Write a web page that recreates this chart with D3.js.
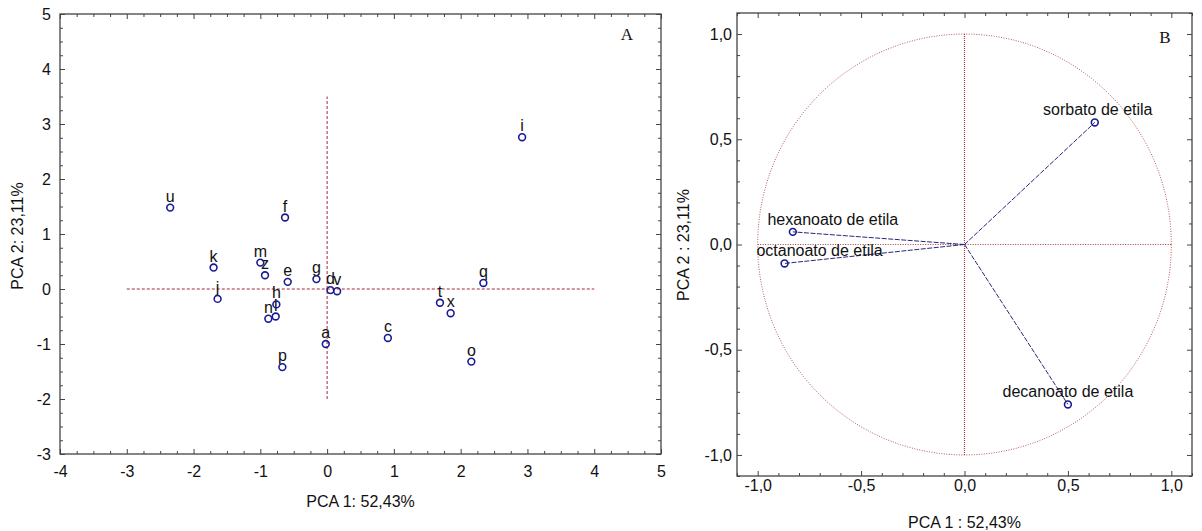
<!DOCTYPE html>
<html>
<head>
<meta charset="utf-8">
<script src="https://cdn.jsdelivr.net/npm/d3@7/dist/d3.min.js"></script>
<style>
  html, body { margin: 0; padding: 0; background: #fff; }
  svg { display: block; }
  text { font-family: "Liberation Sans", Arial, sans-serif; fill: #111; }
</style>
</head>
<body>
<svg id="chart" width="1202" height="531"></svg>
<script>
// ---------- Panel A: scores ----------
const scoreLabels = ["u", "k", "j", "m", "z", "e", "g", "d", "v", "h", "n", "l", "f", "a", "p", "c", "t", "x", "q", "o", "i"];
const scorePC1 = [-2.35, -1.70, -1.64, -1.00, -0.93, -0.59, -0.16, 0.05, 0.15, -0.76, -0.88, -0.77, -0.63, -0.02, -0.67, 0.91, 1.69, 1.85, 2.34, 2.16, 2.92];
const scorePC2 = [1.48, 0.39, -0.18, 0.48, 0.25, 0.13, 0.18, -0.02, -0.04, -0.28, -0.54, -0.50, 1.30, -1.00, -1.42, -0.89, -0.25, -0.44, 0.11, -1.32, 2.76];
const scoreXTicks = [-4, -3, -2, -1, 0, 1, 2, 3, 4, 5];
const scoreYTicks = [-3, -2, -1, 0, 1, 2, 3, 4, 5];
const scoreHLine = { x1: -3, x2: 4, y: 0 };
const scoreVLine = { x: 0, y1: -2, y2: 3.5 };
const scoreXTitle = "PCA 1: 52,43%";
const scoreYTitle = "PCA 2: 23,11%";

// ---------- Panel B: loadings ----------
const loadLabels = ["sorbato de etila", "hexanoato de etila", "octanoato de etila", "decanoato de etila"];
const loadPC1 = [0.63, -0.83, -0.87, 0.50];
const loadPC2 = [0.58, 0.06, -0.09, -0.76];
const loadTicks = [-1.0, -0.5, 0.0, 0.5, 1.0];
const loadXTitle = "PCA 1 : 52,43%";
const loadYTitle = "PCA 2 : 23,11%";

const svg = d3.select("#chart");
const frameColor = "#444";
const markColor = "#1a1a96";
const refColor = "#a3283a";

function drawFrame(g, x, y, majorX, majorY, minorX, minorY, fmt, padX, padY) {
  const [x0, x1] = x.range(), [y0, y1] = y.range();
  // minor ticks (all four sides, inward)
  const minors = [
    [d3.axisBottom(x).tickValues(minorX).tickSize(-3), `translate(0,${y0})`],
    [d3.axisTop(x).tickValues(minorX).tickSize(-3), `translate(0,${y1})`],
    [d3.axisLeft(y).tickValues(minorY).tickSize(-3), `translate(${x0},0)`],
    [d3.axisRight(y).tickValues(minorY).tickSize(-3), `translate(${x1},0)`]
  ];
  minors.forEach(([ax, tr]) => {
    const a = g.append("g").attr("transform", tr).call(ax.tickFormat(""));
    a.select(".domain").remove();
    a.selectAll("line").attr("stroke", frameColor);
  });
  // major ticks with labels (bottom, left)
  const bx = g.append("g").attr("transform", `translate(0,${y0})`)
    .call(d3.axisBottom(x).tickValues(majorX).tickSize(-5).tickPadding(padX).tickFormat(fmt));
  const ly = g.append("g").attr("transform", `translate(${x0},0)`)
    .call(d3.axisLeft(y).tickValues(majorY).tickSize(-5).tickPadding(padY).tickFormat(fmt));
  const tx = g.append("g").attr("transform", `translate(0,${y1})`)
    .call(d3.axisTop(x).tickValues(majorX).tickSize(-5).tickFormat(""));
  const ry = g.append("g").attr("transform", `translate(${x1},0)`)
    .call(d3.axisRight(y).tickValues(majorY).tickSize(-5).tickFormat(""));
  [bx, ly, tx, ry].forEach(a => {
    a.select(".domain").remove();
    a.selectAll("line").attr("stroke", frameColor);
    a.selectAll("text").attr("font-size", 16).attr("font-family", "Liberation Sans, Arial, sans-serif").attr("fill", "#111");
  });
  g.append("rect").attr("x", x0).attr("y", y1).attr("width", x1 - x0).attr("height", y0 - y1)
    .attr("fill", "none").attr("stroke", frameColor).attr("stroke-width", 1.3);
}

// ===== Panel A =====
{
  const x = d3.scaleLinear().domain([-4, 5]).range([60, 661]);
  const y = d3.scaleLinear().domain([-3, 5]).range([454, 14]);
  const g = svg.append("g");
  const minorX = d3.range(-4, 5.001, 0.25).filter(v => !scoreXTicks.includes(v));
  const minorY = d3.range(-3, 5.001, 0.25).filter(v => !scoreYTicks.includes(v));
  drawFrame(g, x, y, scoreXTicks, scoreYTicks, minorX, minorY, d => String(d), 12, 9);

  g.append("line").attr("x1", x(scoreHLine.x1)).attr("x2", x(scoreHLine.x2))
    .attr("y1", y(scoreHLine.y)).attr("y2", y(scoreHLine.y))
    .attr("stroke", refColor).attr("stroke-width", 1).attr("stroke-dasharray", "3,2");
  g.append("line").attr("x1", x(scoreVLine.x)).attr("x2", x(scoreVLine.x))
    .attr("y1", y(scoreVLine.y1)).attr("y2", y(scoreVLine.y2))
    .attr("stroke", refColor).attr("stroke-width", 1).attr("stroke-dasharray", "3,2");

  const pts = scoreLabels.map((l, i) => ({ l, px: scorePC1[i], py: scorePC2[i] }));
  g.selectAll("text.lab").data(pts).enter().append("text")
    .attr("class", "lab")
    .attr("x", d => x(d.px)).attr("y", d => y(d.py) - 6)
    .attr("text-anchor", "middle").attr("font-size", 16)
    .text(d => d.l);
  g.selectAll("circle.pt").data(pts).enter().append("circle")
    .attr("class", "pt")
    .attr("cx", d => x(d.px)).attr("cy", d => y(d.py)).attr("r", 3.4)
    .attr("fill", "none").attr("stroke", markColor).attr("stroke-width", 1.6);

  g.append("text").attr("x", 627).attr("y", 40).attr("text-anchor", "middle")
    .attr("font-family", "Liberation Serif, Times New Roman, serif").attr("font-size", 17)
    .style("font-family", "'Liberation Serif', serif").text("A");
  g.append("text").attr("x", (x.range()[0] + x.range()[1]) / 2).attr("y", 507)
    .attr("text-anchor", "middle").attr("font-size", 16).text(scoreXTitle);
  g.append("text").attr("transform", `translate(23,236) rotate(-90)`)
    .attr("text-anchor", "middle").attr("font-size", 16).text(scoreYTitle);
}

// ===== Panel B =====
{
  const x = d3.scaleLinear().domain([-1.1, 1.1]).range([737, 1192]);
  const y = d3.scaleLinear().domain([-1.1, 1.1]).range([476, 13]);
  const g = svg.append("g");
  const all = d3.range(-11, 12).map(v => v / 10);
  const minor = all.filter(v => !loadTicks.some(t => Math.abs(t - v) < 1e-9));
  const fmt = d => d.toFixed(1).replace(".", ",").replace("-0,0", "0,0");
  drawFrame(g, x, y, loadTicks, loadTicks, minor, minor, fmt, 4, 5);

  // unit circle
  const circ = d3.range(0, 361, 1).map(a => [Math.cos(a * Math.PI / 180), Math.sin(a * Math.PI / 180)]);
  g.append("path").attr("d", d3.line().x(d => x(d[0])).y(d => y(d[1]))(circ))
    .attr("fill", "none").attr("stroke", "#b85a5a").attr("stroke-width", 1).attr("stroke-dasharray", "1,1.5");
  g.append("line").attr("x1", x(-1)).attr("x2", x(1)).attr("y1", y(0)).attr("y2", y(0))
    .attr("stroke", "#a53a3a").attr("stroke-width", 1).attr("stroke-dasharray", "1,1.5");
  g.append("line").attr("x1", x(0)).attr("x2", x(0)).attr("y1", y(-1)).attr("y2", y(1))
    .attr("stroke", "#a53a3a").attr("stroke-width", 1.2).attr("stroke-dasharray", "1,1");

  const pts = loadLabels.map((l, i) => ({ l, px: loadPC1[i], py: loadPC2[i] }));
  const labelShift = { "sorbato de etila": 3, "hexanoato de etila": 40, "octanoato de etila": 35, "decanoato de etila": 0 };
  g.selectAll("line.vec").data(pts).enter().append("line")
    .attr("class", "vec")
    .attr("x1", x(0)).attr("y1", y(0)).attr("x2", d => x(d.px)).attr("y2", d => y(d.py))
    .attr("stroke", "#27277a").attr("stroke-width", 1).attr("stroke-dasharray", "5,1.5");
  g.selectAll("text.lab").data(pts).enter().append("text")
    .attr("class", "lab")
    .attr("x", d => x(d.px) + labelShift[d.l]).attr("y", d => y(d.py) - 7)
    .attr("text-anchor", "middle").attr("font-size", 16).text(d => d.l);
  g.selectAll("circle.pt").data(pts).enter().append("circle")
    .attr("class", "pt")
    .attr("cx", d => x(d.px)).attr("cy", d => y(d.py)).attr("r", 3.4)
    .attr("fill", "none").attr("stroke", markColor).attr("stroke-width", 1.6);

  g.append("text").attr("x", 1165).attr("y", 43).attr("text-anchor", "middle")
    .attr("font-size", 17).style("font-family", "'Liberation Serif', serif").text("B");
  g.append("text").attr("x", (x.range()[0] + x.range()[1]) / 2).attr("y", 528)
    .attr("text-anchor", "middle").attr("font-size", 16).text(loadXTitle);
  g.append("text").attr("transform", `translate(689,245) rotate(-90)`)
    .attr("text-anchor", "middle").attr("font-size", 16).text(loadYTitle);
}
</script>
</body>
</html>
